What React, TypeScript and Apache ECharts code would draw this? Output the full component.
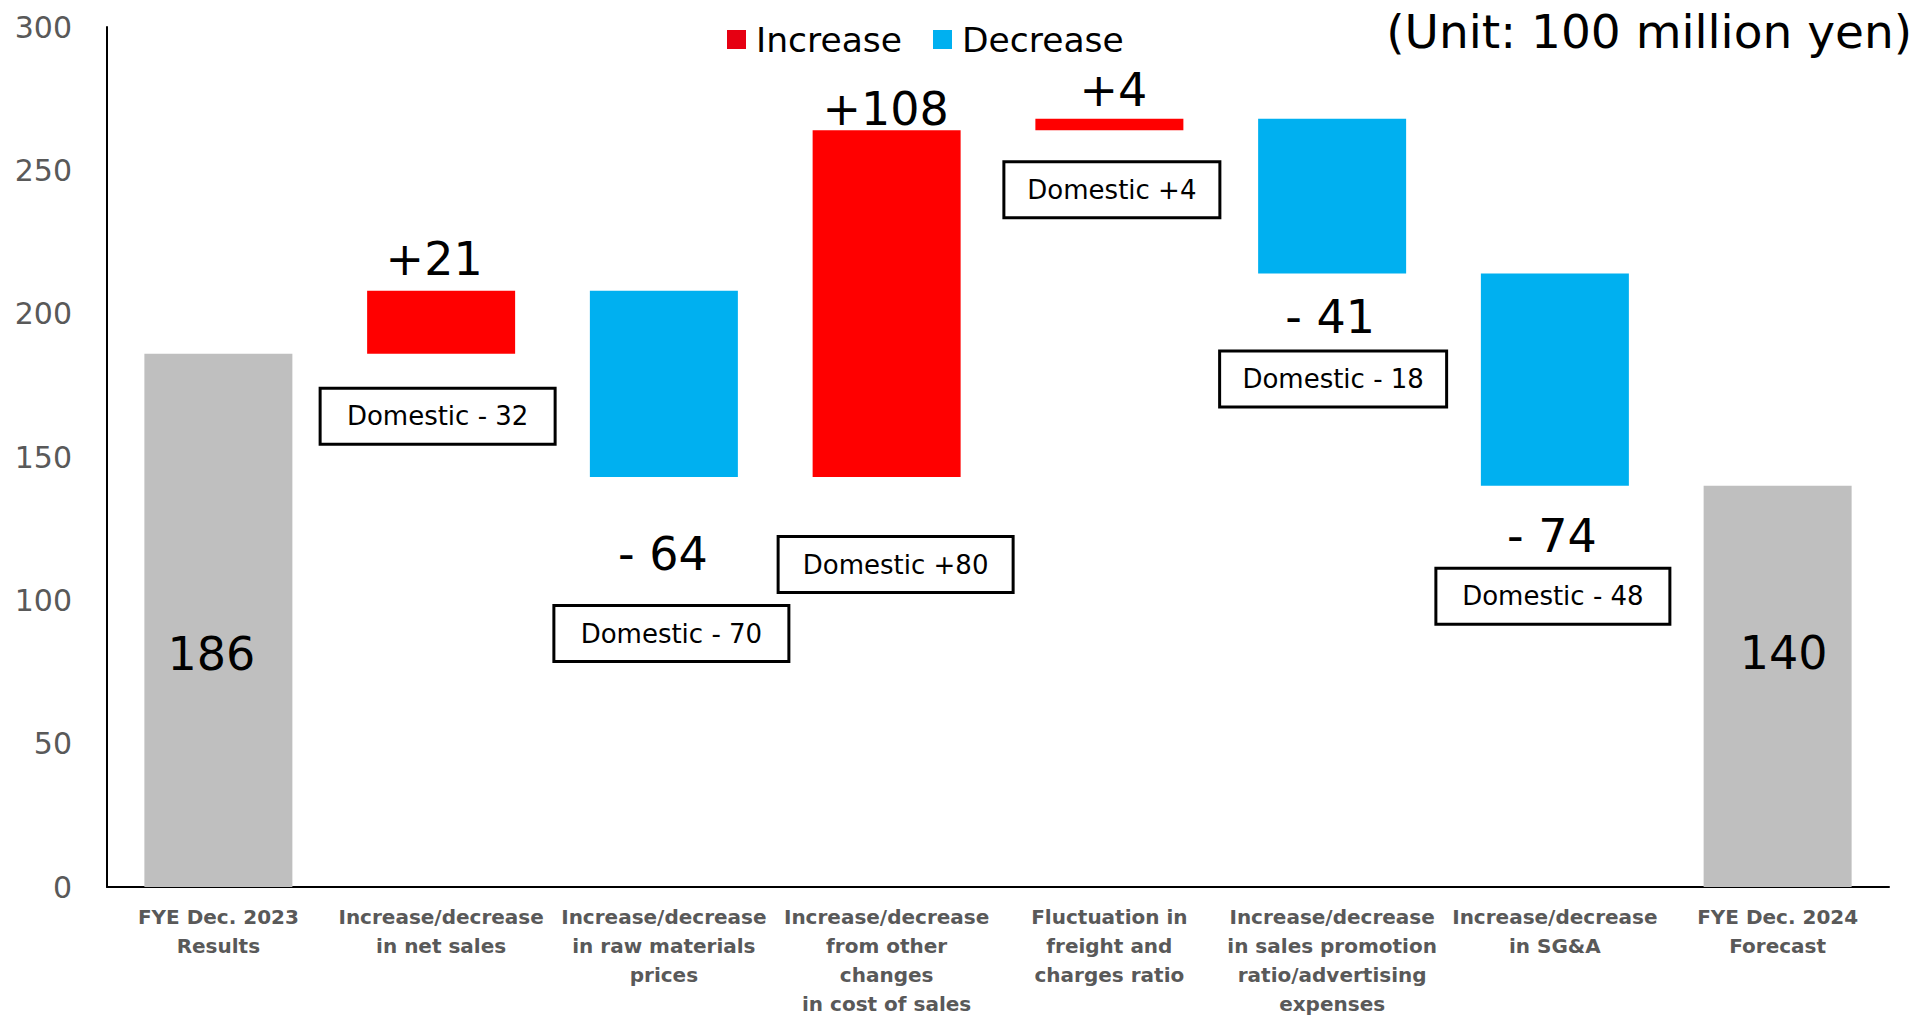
import React, { useEffect, useRef } from "react";
import * as echarts from "echarts";

// ---- data ----
const categories = [
  "FYE Dec. 2023\nResults",
  "Increase/decrease\nin net sales",
  "Increase/decrease\nin raw materials\nprices",
  "Increase/decrease\nfrom other\nchanges\nin cost of sales",
  "Fluctuation in\nfreight and\ncharges ratio",
  "Increase/decrease\nin sales promotion\nratio/advertising\nexpenses",
  "Increase/decrease\nin SG&A",
  "FYE Dec. 2024\nForecast",
];
const startTotal = 186;
const endTotal = 140;
// drawn heights of the floating bars (as they appear in the picture)
const barChanges = [22, -65, 121, 4, -54, -74];
const changeLabels = ["+21", "- 64", "+108", "+4", "- 41", "- 74"];
const domesticNotes = [
  "Domestic - 32",
  "Domestic - 70",
  "Domestic +80",
  "Domestic +4",
  "Domestic - 18",
  "Domestic - 48",
];
const yMin = 0;
const yMax = 300;
const yStep = 50;
const unitText = "(Unit: 100 million yen)";

// ---- layout (pixel offsets of labels relative to their bars) ----
const changeLabelOffsets = [[-7, -9], [-1, 54], [-1, 2], [4, -6], [-2, 20], [-3, 27]];
const noteOffsets = [[-3.5, 36], [7.5, 130], [9, 61], [2.5, 33], [1, 79], [-2, 84]];
const noteWidths = [232, 232, 232, 213, 224, 231];
const totalOffsets = [[-7, 34], [6, -33]];

const FONT = "DejaVu Sans";
const RED = "#FF0000";
const BLUE = "#00B0F0";
const GRAY = "#BFBFBF";

export default function App() {
  const ref = useRef<HTMLDivElement>(null);
  useEffect(() => {
    document.body.style.margin = "0";
    const chart = echarts.init(ref.current!, null, { renderer: "svg" });
    const n = categories.length;
    const base: any[] = new Array(n).fill("-");
    const inc: any[] = new Array(n).fill("-");
    const dec: any[] = new Array(n).fill("-");
    const tot: any[] = new Array(n).fill("-");

    const bigLabel = {
      show: true,
      fontSize: 46,
      lineHeight: 46,
      color: "#000",
      fontFamily: FONT,
      distance: 0,
    };

    tot[0] = {
      value: startTotal,
      label: { ...bigLabel, position: "inside", formatter: String(startTotal), offset: totalOffsets[0] },
    };
    let level = startTotal;
    barChanges.forEach((d, k) => {
      const i = k + 1;
      const low = d >= 0 ? level : level + d;
      base[i] = {
        value: low,
        label: {
          show: true,
          position: "insideTop",
          distance: 0,
          formatter: domesticNotes[k],
          offset: noteOffsets[k],
          width: noteWidths[k],
          align: "center",
          fontSize: 26,
          lineHeight: 29,
          color: "#000",
          fontFamily: FONT,
          backgroundColor: "#fff",
          borderColor: "#000",
          borderWidth: 3,
          padding: [12, 0],
        },
      };
      const lbl = {
        ...bigLabel,
        position: d >= 0 ? "top" : "bottom",
        formatter: changeLabels[k],
        offset: changeLabelOffsets[k],
      };
      if (d >= 0) inc[i] = { value: d, label: lbl };
      else dec[i] = { value: -d, label: lbl };
      level += d;
    });
    tot[n - 1] = {
      value: endTotal,
      label: { ...bigLabel, position: "inside", formatter: String(endTotal), offset: totalOffsets[1] },
    };

    const option: any = {
      animation: false,
      textStyle: { fontFamily: FONT },
      grid: {
        left: 107,
        right: 41,
        top: 27,
        bottom: 132,
        containLabel: false,
        outerBoundsMode: "none",
      },
      legend: {
        left: 727,
        top: 22,
        padding: 0,
        selectedMode: false,
        icon: "rect",
        itemWidth: 19,
        itemHeight: 19,
        itemGap: 31,
        textStyle: { fontSize: 34.5, color: "#000", fontFamily: FONT, padding: [0, 0, 0, 5] },
        data: [
          { name: "Increase", itemStyle: { color: "#E60012" } },
          { name: "Decrease", itemStyle: { color: BLUE } },
        ],
      },
      graphic: [
        {
          type: "text",
          right: 18,
          top: 8,
          style: { text: unitText, fontSize: 47, fill: "#000", fontFamily: FONT },
        },
      ],
      xAxis: {
        type: "category",
        data: categories,
        axisLine: { show: true, lineStyle: { color: "#000", width: 2 } },
        axisTick: { show: false },
        axisLabel: {
          interval: 0,
          margin: 15,
          fontSize: 20,
          lineHeight: 29,
          fontWeight: "bold",
          color: "#595959",
          fontFamily: FONT,
        },
        splitLine: { show: false },
      },
      yAxis: {
        type: "value",
        min: yMin,
        max: yMax,
        interval: yStep,
        axisLine: { show: true, lineStyle: { color: "#000", width: 2 } },
        axisTick: { show: false },
        splitLine: { show: false },
        axisLabel: { fontSize: 30, color: "#595959", margin: 35, fontFamily: FONT },
      },
      series: [
        {
          name: "base",
          type: "bar",
          stack: "w",
          barWidth: 148,
          silent: true,
          itemStyle: { color: "transparent" },
          emphasis: { disabled: true },
          data: base,
        },
        {
          name: "Increase",
          type: "bar",
          stack: "w",
          barWidth: 148,
          itemStyle: { color: RED },
          emphasis: { disabled: true },
          data: inc,
        },
        {
          name: "Decrease",
          type: "bar",
          stack: "w",
          barWidth: 148,
          itemStyle: { color: BLUE },
          emphasis: { disabled: true },
          data: dec,
        },
        {
          name: "Total",
          type: "bar",
          stack: "w",
          barWidth: 148,
          itemStyle: { color: GRAY },
          emphasis: { disabled: true },
          data: tot,
        },
      ],
    };
    chart.setOption(option);
    return () => chart.dispose();
  }, []);
  return (
    <div
      ref={ref}
      style={{ position: "absolute", left: 0, top: 0, width: 1930, height: 1019 }}
    />
  );
}
